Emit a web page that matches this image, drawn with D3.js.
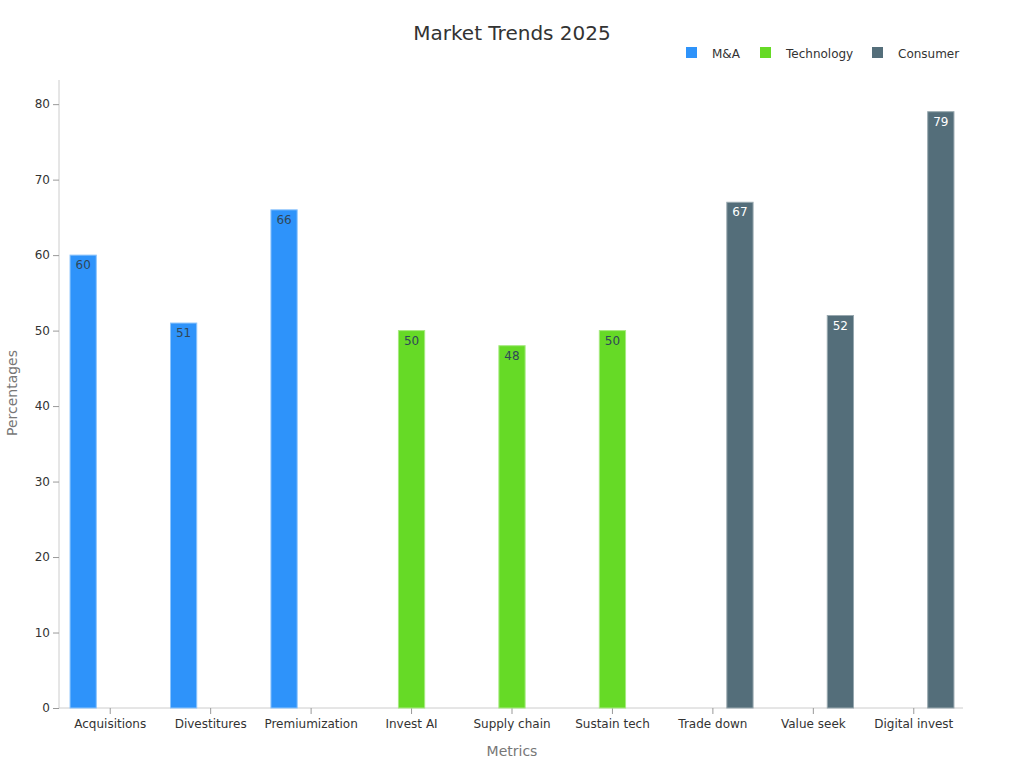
<!DOCTYPE html>
<html><head><meta charset="utf-8">
<script src="https://cdn.jsdelivr.net/npm/d3@7/dist/d3.min.js"></script>
<style>body{margin:0;background:#fff;font-family:"DejaVu Sans",sans-serif;}</style>
</head><body><svg id="c" width="1024" height="768"></svg>
<script>
const categories = ["Acquisitions","Divestitures","Premiumization","Invest AI","Supply chain","Sustain tech","Trade down","Value seek","Digital invest"];
const seriesNames = ["M&A","Technology","Consumer"];
const maValues = [60,51,66,null,null,null,null,null,null];
const techValues = [null,null,null,50,48,50,null,null,null];
const consumerValues = [null,null,null,null,null,null,67,52,79];
const colors = ["#2E93FA","#66DA26","#546E7A"];
const strokes = ["#8cc4fc","#a6ea80","#98a8af"];
const labelColors = ["#304758","#304758","#ffffff"];
const yTicks = [0,10,20,30,40,50,60,70,80];

const seriesValues = [maValues, techValues, consumerValues];
const svg = d3.select("#c");
const mLeft = 59, mRight = 963, mTop = 80, mBottom = 708;

const x0 = d3.scaleBand().domain(categories).range([mLeft + 1, mRight + 1]).padding(0);
const bw = x0.bandwidth();
const x1 = d3.scaleBand().domain(seriesNames).range([bw*0.1, bw*0.9]).paddingInner(0.03);
const y = d3.scaleLinear().domain([0, 83.2]).range([mBottom, mTop]);

// title
svg.append("text").attr("x",512).attr("y",40).attr("text-anchor","middle")
  .attr("font-size",20).attr("fill","#333").text("Market Trends 2025");

// axes
const yAxis = svg.append("g").attr("transform",`translate(${mLeft},0)`)
  .call(d3.axisLeft(y).tickValues(yTicks).tickSize(6).tickPadding(3));
yAxis.select(".domain").attr("stroke","#ccc").attr("d",`M0,${mBottom}V${mTop}`);
yAxis.selectAll(".tick line").attr("stroke","#999");
yAxis.selectAll(".tick text").attr("font-size",12).attr("fill","#333").attr("font-family","DejaVu Sans");

const xAxis = svg.append("g").attr("transform",`translate(0,${mBottom})`)
  .call(d3.axisBottom(x0).tickSize(6).tickPadding(5));
xAxis.select(".domain").attr("stroke","#ccc").attr("d",`M${mLeft},0H${mRight}`);
xAxis.selectAll(".tick line").attr("stroke","#999");
xAxis.selectAll(".tick text").attr("font-size",12).attr("fill","#333").attr("font-family","DejaVu Sans");

// axis titles
svg.append("text").attr("x",512).attr("y",756).attr("text-anchor","middle")
  .attr("font-size",14).attr("fill","#777").text("Metrics");
svg.append("text").attr("transform",`translate(17,393) rotate(-90)`).attr("text-anchor","middle")
  .attr("font-size",14).attr("fill","#777").text("Percentages");

// bars
seriesNames.forEach((s, si) => {
  const g = svg.append("g");
  categories.forEach((c, ci) => {
    const v = seriesValues[si][ci];
    if (v == null) return;
    const bx = x0(c) + x1(s);
    g.append("rect").attr("x", bx).attr("y", y(v)).attr("width", x1.bandwidth())
      .attr("height", y(0) - y(v)).attr("fill", colors[si]).attr("stroke", strokes[si]).attr("stroke-width",1);
    g.append("text").attr("x", bx + x1.bandwidth()/2).attr("y", y(v) + 14)
      .attr("text-anchor","middle").attr("font-size",12).attr("fill",labelColors[si]).text(v);
  });
});

// legend
const legendX = [686, 760, 872];
seriesNames.forEach((s, i) => {
  svg.append("rect").attr("x", legendX[i]).attr("y", 47).attr("width", 11).attr("height", 11).attr("fill", colors[i]);
  svg.append("text").attr("x", legendX[i] + 26).attr("y", 57.5).attr("font-size", 12).attr("fill","#333").text(s);
});
</script></body></html>
